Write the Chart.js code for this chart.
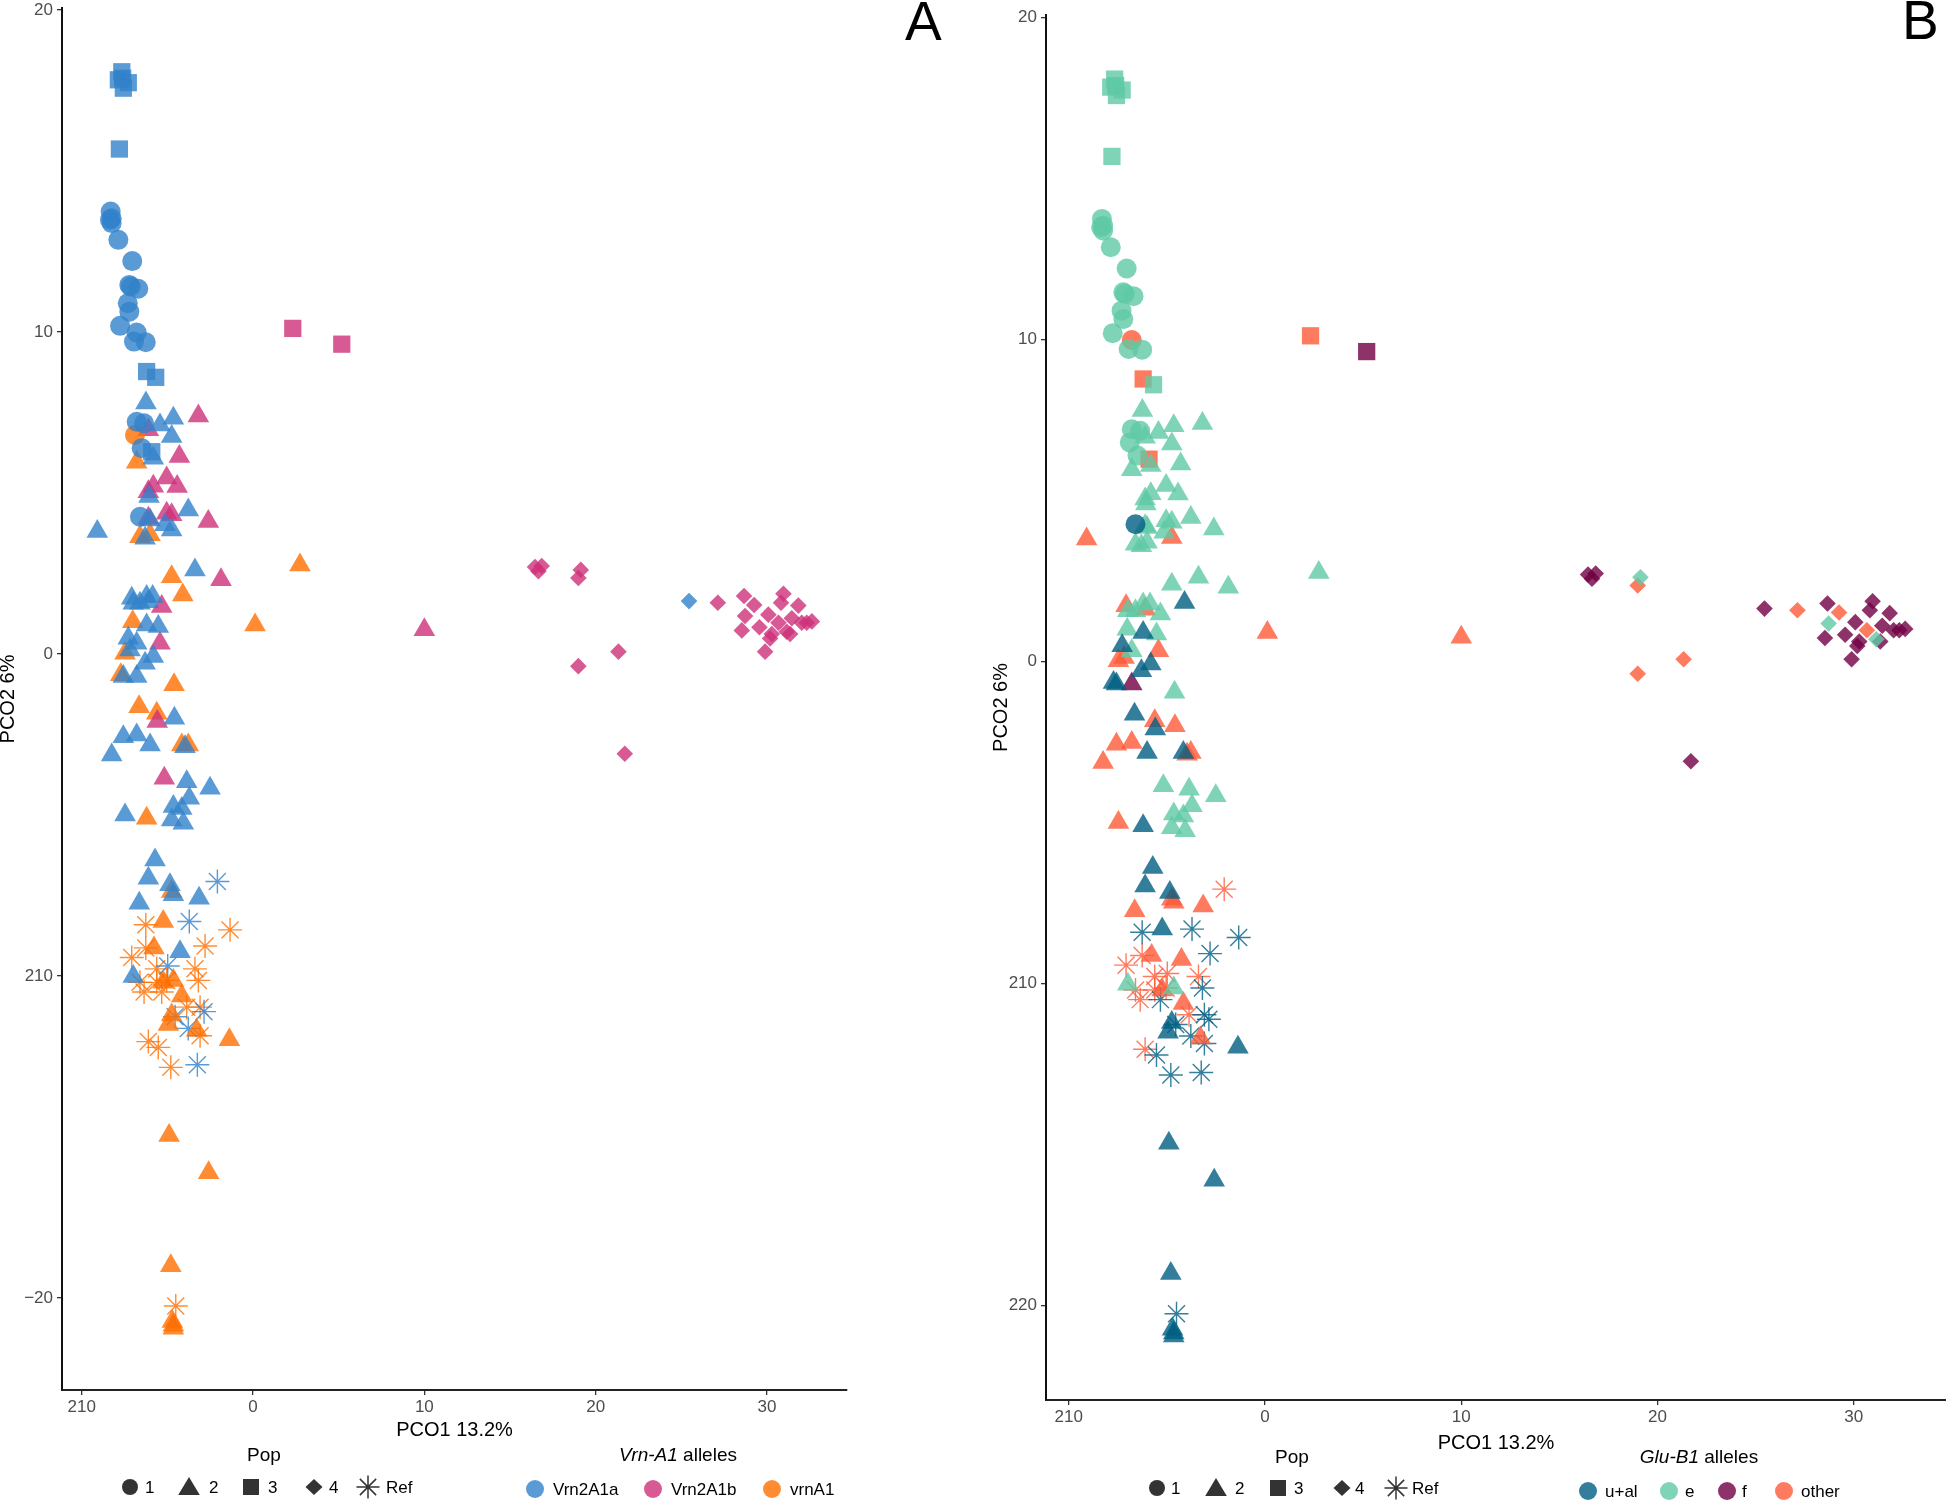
<!DOCTYPE html>
<html>
<head>
<meta charset="utf-8">
<script src="https://cdn.jsdelivr.net/npm/chart.js@4.4.1/dist/chart.umd.min.js"></script>
<style>
html,body{margin:0;padding:0;background:#fff;}
body{width:1946px;height:1501px;position:relative;overflow:hidden;font-family:"Liberation Sans",Arial,Helvetica,sans-serif;}
#wrapA{position:absolute;left:0;top:0;width:860px;height:1442px;}
#wrapB{position:absolute;left:990px;top:0;width:956px;height:1455px;}
#overlay{position:absolute;left:0;top:0;width:1946px;height:1501px;pointer-events:none;}
canvas{display:block;}
</style>
</head>
<body>
<div id="wrapA"><canvas id="cA"></canvas></div>
<div id="wrapB"><canvas id="cB"></canvas></div>
<svg id="overlay" xmlns="http://www.w3.org/2000/svg" width="1946" height="1501"></svg>
<script>
// ---------------- DATA ----------------
const popLabels = ['1', '2', '3', '4', 'Ref'];
const vrnAlleles = ['Vrn2A1a', 'Vrn2A1b', 'vrnA1'];
const gluAlleles = ['u+al', 'e', 'f', 'other'];

const xTicks = [-10, 0, 10, 20, 30];
const xTickLabels = ['210', '0', '10', '20', '30'];
const yTicks = [20, 10, 0, -10, -20];
const yTickLabelsA = ['20', '10', '0', '210', '\u221220'];
const yTickLabelsB = ['20', '10', '0', '210', '220'];

// Pop 1 (circles)
const pop1X = [-8.31,-8.25,-8.35,-8.25,-7.86,-7.05,-7.22,-7.14,-6.70,-7.31,-7.22,-7.76,-6.79,-6.95,-6.26,-6.79,-6.36,-6.50,-6.89,-6.60];
const pop1Y = [13.74,13.53,13.48,13.38,12.86,12.20,11.46,11.41,11.34,10.89,10.63,10.19,9.98,9.70,9.68,7.21,7.16,6.39,6.80,4.26];
const pop1Vrn = [0,0,0,0,0,0,0,0,0,0,0,0,0,0,0,0,0,0,2,0];
const pop1Glu = [1,1,1,1,1,1,1,1,1,1,1,1,3,1,1,1,1,1,1,0];

// Pop 2 (triangles)
const pop2X = [-6.25,-5.43,-4.65,-3.19,-4.75,-6.11,-5.82,-6.79,-4.30,-5.04,
 -5.82,-4.43,-6.11,-6.07,-6.11,-6.01,-5.04,-4.75,-3.78,-2.61,
 -5.14,-4.75,-6.60,-6.01,-6.30,-9.09,2.74,-3.39,-4.75,-1.87,
 -4.10,-7.08,-6.21,-5.86,-6.99,-6.11,-6.60,-5.33,0.12,10.00,
 -7.02,-6.21,-5.53,-5.43,-7.28,-6.79,-7.18,-7.47,-5.82,-6.30,
 -6.79,-7.72,-7.57,-4.61,-6.65,-5.62,-5.59,-4.59,-7.57,-6.79,
 -6.01,-8.25,-4.16,-3.97,-3.78,-5.18,-3.87,-2.51,-3.72,-4.65,
 -4.16,-7.47,-6.21,-4.75,-4.07,-5.72,-6.11,-4.85,-4.75,-4.65,
 -3.15,-6.64,-5.24,-5.78,-4.26,-6.99,-5.24,-4.65,-4.16,-4.75,
 -4.94,-3.29,-1.38,-4.90,-2.59,-4.80,-4.71,-4.65,-4.65];
const pop2Y = [7.79,7.11,7.32,7.39,6.75,6.96,6.08,5.95,6.13,5.46,
 5.21,5.20,5.04,4.89,4.21,4.16,4.37,4.32,4.47,4.11,
 4.01,3.85,3.64,3.70,3.59,3.80,2.76,2.61,2.40,2.30,
 1.83,1.73,1.78,1.78,1.57,1.62,1.57,1.47,0.90,0.75,
 1.00,0.90,0.85,0.33,0.49,0.33,0.12,0.02,-0.08,-0.29,
 -0.70,-0.65,-0.70,-0.96,-1.64,-1.84,-2.10,-2.00,-2.57,-2.52,
 -2.83,-3.14,-2.83,-2.88,-2.83,-3.86,-3.97,-4.17,-4.48,-4.74,
 -4.80,-5.00,-5.10,-5.16,-5.26,-6.40,-6.97,-7.17,-7.38,-7.48,
 -7.59,-7.74,-8.31,-9.13,-9.25,-10.02,-10.20,-10.14,-10.62,-11.21,
 -11.51,-11.69,-11.98,-14.96,-16.11,-19.00,-20.73,-20.85,-20.94];
const pop2Vrn = [0,0,0,1,0,1,0,2,1,1, 1,1,1,0,1,0,1,1,0,1, 0,0,2,2,0,0,2,0,2,1,
 2,0,0,0,0,0,0,1,2,1, 2,0,0,1,0,0,0,2,0,0, 0,2,0,2,2,2,1,0,0,0,
 0,0,2,0,2,1,0,0,0,0, 0,0,2,0,0,0,0,0,2,0, 0,0,2,2,0,0,2,2,2,2,
 2,2,2,2,2,2,2,2,2];
const pop2Glu = [1,1,1,1,1,1,1,1,1,1, 1,1,1,1,1,1,1,1,1,1, 1,3,1,1,1,3,1,1,1,1,
 0,3,1,1,1,3,1,1,3,3, 1,0,1,3,0,1,3,3,0,0, 2,0,0,1,0,3,0,3,3,3,
 0,3,0,3,3,1,1,1,1,1, 1,3,0,1,1,0,0,0,3,3, 3,3,0,3,3,1,3,1,3,0,
 0,3,0,0,0,0,0,0,0];

// Pop 3 (squares)
const pop3X = [-7.66,-7.61,-7.86,-7.28,-7.57,-7.80,-6.21,-5.68,2.32,5.18,-5.91];
const pop3Y = [18.08,17.88,17.83,17.74,17.57,15.68,8.77,8.59,10.11,9.62,6.28];
const pop3Vrn = [0,0,0,0,0,0,0,0,1,1,0];
const pop3Glu = [1,1,1,1,1,1,3,1,3,2,3];

// Pop 4 (diamonds)
const pop4X = [16.46,16.85,16.66,19.13,18.99,18.99,21.33,21.70,25.45,27.13,28.66,29.25,28.72,28.53,30.08,29.56,30.96,30.82,31.83,31.45,30.67,32.03,32.32,32.62,31.15,31.35,30.18,30.28,29.89];
const pop4Y = [2.70,2.73,2.57,2.61,2.36,-0.38,0.07,-3.10,1.64,1.59,1.80,1.52,1.18,0.73,1.22,0.83,1.87,1.59,1.50,1.11,0.97,0.97,0.97,1.01,0.69,0.62,0.48,0.62,0.07];
const pop4Vrn = [1,1,1,1,1,1,1,1,0,1,1,1,1,1,1,1,1,1,1,1,1,1,1,1,1,1,1,1,1];
const pop4Glu = [2,2,2,1,3,3,3,2,2,3,2,3,1,2,2,2,2,2,2,2,3,2,2,2,1,2,2,2,2];

// Ref (asterisks)
const refX = [-2.08,-3.72,-6.26,-1.34,-2.80,-7.08,-6.26,-4.98,-5.62,-3.39,-6.60,-5.62,-5.04,-3.19,-6.36,-5.33,-3.87,-3.09,-2.86,-4.55,-3.78,-3.09,-6.11,-5.53,-4.80,-3.25,-4.51];
const refY = [-7.07,-8.31,-8.41,-8.57,-9.07,-9.43,-9.13,-9.69,-9.78,-9.78,-10.20,-10.20,-10.14,-10.14,-10.50,-10.50,-10.97,-10.97,-11.11,-11.27,-11.63,-11.86,-12.04,-12.22,-12.84,-12.76,-20.25];
const refVrn = [0,0,2,2,2,2,2,0,2,2,2,2,2,2,2,2,2,2,0,0,0,2,2,2,2,0,2];
const refGlu = [3,0,0,0,0,3,3,3,3,3,3,3,3,0,3,0,3,0,0,0,0,0,3,0,0,0,0];

// ---------------- STYLE ----------------
const FONT = "'Liberation Sans', Arial, Helvetica, sans-serif";
const vrnColors = ['rgba(50,130,202,0.8)', 'rgba(205,49,122,0.8)', 'rgba(255,111,0,0.8)'];
const gluColors = ['rgba(0,95,130,0.8)', 'rgba(95,201,165,0.8)', 'rgba(114,0,67,0.8)', 'rgba(255,90,55,0.8)'];

const pops = [
  {x: pop1X, y: pop1Y, vrn: pop1Vrn, glu: pop1Glu, shape: 'circle', r: 10},
  {x: pop2X, y: pop2Y, vrn: pop2Vrn, glu: pop2Glu, shape: 'triangle', r: 12.5},
  {x: pop3X, y: pop3Y, vrn: pop3Vrn, glu: pop3Glu, shape: 'rect', r: 12.2},
  {x: pop4X, y: pop4Y, vrn: pop4Vrn, glu: pop4Glu, shape: 'rectRot', r: 8.3},
  {x: refX, y: refY, vrn: refVrn, glu: refGlu, shape: 'star', r: 12}
];

function buildDatasets(key, colors) {
  const ds = [];
  pops.forEach((p, pi) => {
    colors.forEach((col, ci) => {
      const pts = [];
      p.x.forEach((xv, i) => { if (p[key][i] === ci) pts.push({x: xv, y: p.y[i]}); });
      if (!pts.length) return;
      const isStar = p.shape === 'star';
      ds.push({
        label: popLabels[pi] + ' ' + ci,
        data: pts,
        showLine: false,
        pointStyle: p.shape,
        pointRadius: p.r,
        pointHoverRadius: p.r,
        pointBackgroundColor: isStar ? 'rgba(0,0,0,0)' : col,
        pointBorderColor: col,
        pointBorderWidth: isStar ? 1.4 : 0,
        backgroundColor: col,
        borderColor: col
      });
    });
  });
  return ds;
}

function makeOptions(cfg) {
  return {
    responsive: true,
    maintainAspectRatio: false,
    animation: false,
    events: [],
    layout: {autoPadding: false, padding: {top: cfg.padTop, right: cfg.padRight, left: 0, bottom: 0}},
    plugins: {legend: {display: false}, tooltip: {enabled: false}},
    scales: {
      x: {
        type: 'linear', min: cfg.xMin, max: cfg.xMax,
        afterBuildTicks: s => { s.ticks = xTicks.map(v => ({value: v})); },
        afterFit: s => { s.height = cfg.xH; s.paddingLeft = 0; s.paddingRight = 0; },
        ticks: {callback: (v, i) => xTickLabels[i], color: '#4d4d4d', font: {size: 17, family: FONT}, padding: 2, maxRotation: 0, autoSkip: false},
        grid: {drawOnChartArea: false, drawTicks: true, tickLength: 5, color: '#333', lineWidth: 1.3},
        border: {display: true, color: '#222', width: 2},
        title: {display: true, text: 'PCO1 13.2%', color: '#000', font: {size: 20, family: FONT, lineHeight: 1.2}, padding: 0}
      },
      y: {
        type: 'linear', min: cfg.yMin, max: cfg.yMax,
        afterBuildTicks: s => { s.ticks = yTicks.map(v => ({value: v})); },
        afterFit: s => { s.width = cfg.yW; s.paddingTop = 0; s.paddingBottom = 0; },
        ticks: {callback: (v, i) => cfg.yLabels[i], color: '#4d4d4d', font: {size: 17, family: FONT}, padding: 4, autoSkip: false},
        grid: {drawOnChartArea: false, drawTicks: true, tickLength: 5, color: '#333', lineWidth: 1.3},
        border: {display: true, color: '#111', width: 2},
        title: {display: true, text: 'PCO2 6%', color: '#000', font: {size: 20, family: FONT, lineHeight: cfg.yTitleLH}, padding: 0}
      }
    }
  };
}

new Chart(document.getElementById('cA'), {
  type: 'scatter',
  data: {datasets: buildDatasets('vrn', vrnColors)},
  options: makeOptions({padTop: 8, padRight: 13, xMin: -11.15, xMax: 34.67, yMin: -22.86, yMax: 20.06, xH: 52, yW: 62, yLabels: yTickLabelsA, yTitleLH: 0.85})
});

new Chart(document.getElementById('cB'), {
  type: 'scatter',
  data: {datasets: buildDatasets('glu', gluColors)},
  options: makeOptions({padTop: 15, padRight: 0, xMin: -11.16, xMax: 34.7, yMin: -22.93, yMax: 20.07, xH: 55, yW: 56, yLabels: yTickLabelsB, yTitleLH: 1.1})
});

// ---------------- LEGENDS & PANEL LABELS (SVG text) ----------------
const svg = document.getElementById('overlay');
const NS = 'http://www.w3.org/2000/svg';
function el(tag, attrs, text) {
  const e = document.createElementNS(NS, tag);
  for (const k in attrs) e.setAttribute(k, attrs[k]);
  if (text !== undefined) e.textContent = text;
  svg.appendChild(e);
  return e;
}
function txt(x, y, s, size, anchor, extra) {
  return el('text', Object.assign({x: x, y: y, 'font-family': FONT, 'font-size': size, fill: '#000', 'text-anchor': anchor || 'start', 'dominant-baseline': 'central'}, extra || {}), s);
}
function shape(kind, cx, cy, color) {
  if (kind === 'circle') el('circle', {cx: cx, cy: cy, r: 8, fill: color});
  else if (kind === 'triangle') el('polygon', {points: `${cx},${cy-10} ${cx-10.8},${cy+8} ${cx+10.8},${cy+8}`, fill: color});
  else if (kind === 'rect') el('rect', {x: cx-8, y: cy-8, width: 16, height: 16, fill: color});
  else if (kind === 'rectRot') el('polygon', {points: `${cx-8.5},${cy} ${cx},${cy-8} ${cx+8.5},${cy} ${cx},${cy+8}`, fill: color});
  else if (kind === 'star') {
    const r = 11.5, d = r * Math.SQRT1_2;
    const p = `M${cx-r},${cy}L${cx+r},${cy}M${cx},${cy-r}L${cx},${cy+r}M${cx-d},${cy-d}L${cx+d},${cy+d}M${cx-d},${cy+d}L${cx+d},${cy-d}`;
    el('path', {d: p, stroke: color, 'stroke-width': 1.5, fill: 'none'});
  }
}
const popShapes = ['circle', 'triangle', 'rect', 'rectRot', 'star'];
const LEG_GREY = '#333';

function popLegend(titleX, titleY, markX, labX, rowY) {
  txt(titleX, titleY, 'Pop', 19, 'middle');
  popLabels.forEach((l, i) => {
    shape(popShapes[i], markX[i], rowY, LEG_GREY);
    txt(labX[i], rowY, l, 17);
  });
}
function alleleLegend(italicPart, titleX, titleY, names, colors, markX, labX, rowY) {
  const t = txt(titleX, titleY, '', 19, 'middle');
  const a = document.createElementNS(NS, 'tspan'); a.setAttribute('font-style', 'italic'); a.textContent = italicPart;
  const b = document.createElementNS(NS, 'tspan'); b.textContent = ' alleles';
  t.appendChild(a); t.appendChild(b);
  names.forEach((n, i) => {
    el('circle', {cx: markX[i], cy: rowY, r: 9, fill: colors[i]});
    txt(labX[i], rowY, n, 17);
  });
}

popLegend(264, 1454, [130, 189, 251, 314, 368], [145, 209, 268, 329, 386], 1487);
alleleLegend('Vrn-A1', 678, 1454, vrnAlleles, vrnColors, [535, 653, 772], [553, 671, 790], 1489);
popLegend(1292, 1456, [1157, 1216, 1278, 1342, 1396], [1171, 1235, 1294, 1355, 1412], 1488);
alleleLegend('Glu-B1', 1699, 1456, gluAlleles, gluColors, [1588, 1669, 1727, 1784], [1605, 1685, 1742, 1801], 1491);

el('text', {x: 905, y: 40, 'font-family': FONT, 'font-size': 55, fill: '#000'}, 'A');
el('text', {x: 1902, y: 39, 'font-family': FONT, 'font-size': 55, fill: '#000'}, 'B');
</script>
</body>
</html>
